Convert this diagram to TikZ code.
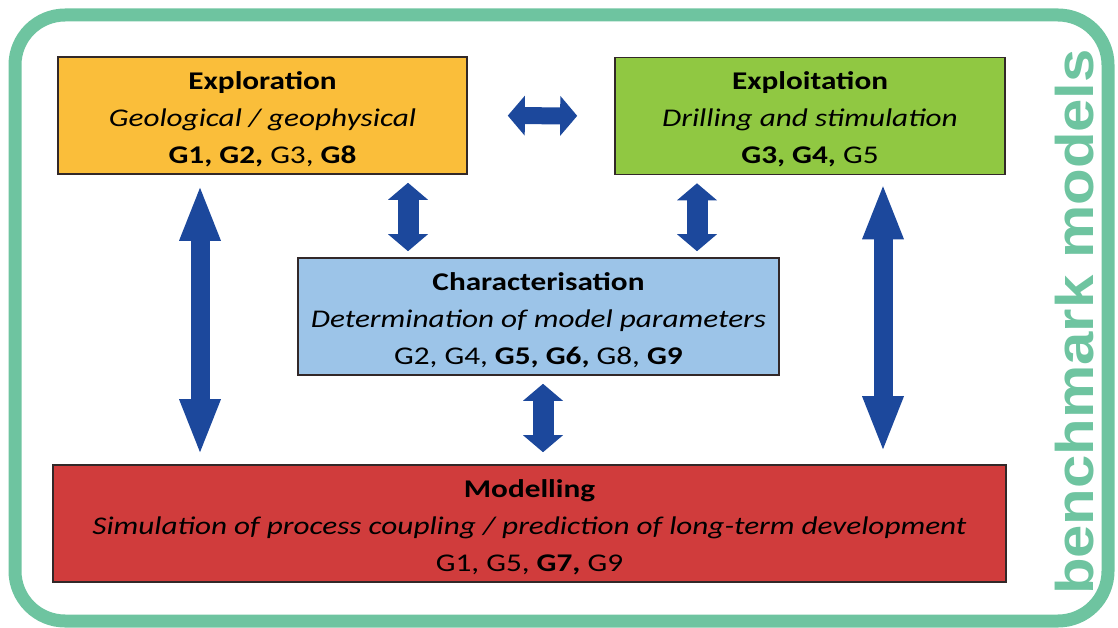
\documentclass[tikz,border=0pt]{standalone}
\usepackage{fontspec}
\setmainfont{Carlito}[FakeStretch=1.225]
\newfontfamily\benchfont{Liberation Sans}[FakeStretch=1.13]
\usetikzlibrary{arrows.meta, positioning, calc}

\definecolor{framegreen}{RGB}{110,196,160}
\definecolor{explorange}{RGB}{250,190,58}
\definecolor{exploitgreen}{RGB}{144,200,66}
\definecolor{charblue}{RGB}{156,196,232}
\definecolor{modelred}{RGB}{208,60,60}
\definecolor{arrowblue}{RGB}{28,72,156}
\definecolor{edgedark}{RGB}{50,40,40}

% stage title, with a strut to sit the three lines a little lower
\newcommand{\stagehead}[1]{\rule{0pt}{25pt}\textbf{#1}}

\tikzset{
	stagebox/.style={draw=edgedark, line width=1.6pt, align=center, inner sep=0pt,
		minimum height=117pt, font=\fontsize{25.5}{37}\selectfont},
	bigarrow/.style={draw=arrowblue, line width=19pt,
		{Triangle[width=42pt, length=53pt, line width=0pt]}-{Triangle[width=42pt, length=53pt, line width=0pt]}},
	shortarrow/.style={draw=arrowblue, line width=21pt,
		{Triangle[width=40pt, length=17pt, line width=0pt]}-{Triangle[width=40pt, length=17pt, line width=0pt]}}
}

\begin{document}
\begin{tikzpicture}[x=1pt, y=-1pt]
	\useasboundingbox (0,0) rectangle (1118,628);

	% outer frame
	\draw[framegreen, line width=13pt, rounded corners=50pt] (15,15) rectangle (1108,621);
	\node[rotate=90, inner sep=0pt, text=framegreen, font=\benchfont\bfseries\fontsize{53}{56}\selectfont] (bench) at (1075,322) {benchmark models};

	% the four stages
	\node[stagebox, fill=explorange, minimum width=409pt] (expl) at (262.5,115.5)
		{\stagehead{Exploration}\\ \textit{Geological / geophysical}\\ \textbf{G1, G2,} G3, \textbf{G8}};
	\node[stagebox, fill=exploitgreen, minimum width=390pt] (exploit) at (810,116)
		{\stagehead{Exploitation}\\ \textit{Drilling and stimulation}\\ \textbf{G3, G4,} G5};
	\node[stagebox, fill=charblue, minimum width=481pt] (charac) at (538.5,316.5)
		{\stagehead{Characterisation}\\ \textit{Determination of model parameters}\\ G2, G4, \textbf{G5, G6,} G8, \textbf{G9}};
	\node[stagebox, fill=modelred, minimum width=953pt] (model) at (529.5,523.5)
		{\stagehead{Modelling}\\ \textit{Simulation of process coupling / prediction of long-term development}\\ G1, G5, \textbf{G7,} G9};

	% links
	\draw[shortarrow, line width=17pt, shorten <=40pt, shorten >=37pt] (expl.east) -- (exploit.west);
	\draw[shortarrow, shorten <=8pt, shorten >=6pt] ([xshift=145.5pt]expl.south) -- ([xshift=145.5pt]expl.south |- charac.north);
	\draw[shortarrow, shorten <=8pt, shorten >=6pt] ([xshift=-113pt]exploit.south) -- ([xshift=-113pt]exploit.south |- charac.north);
	\draw[shortarrow, shorten <=8pt, shorten >=12pt] ([xshift=4.5pt]charac.south) -- ([xshift=4.5pt]charac.south |- model.north);
	\draw[bigarrow, shorten <=13pt, shorten >=12pt] ([xshift=-62.5pt]expl.south) -- ([xshift=-62.5pt]expl.south |- model.north);
	\draw[bigarrow, shorten <=11pt, shorten >=15pt] ([xshift=73pt]exploit.south) -- ([xshift=73pt]exploit.south |- model.north);
\end{tikzpicture}
\end{document}
